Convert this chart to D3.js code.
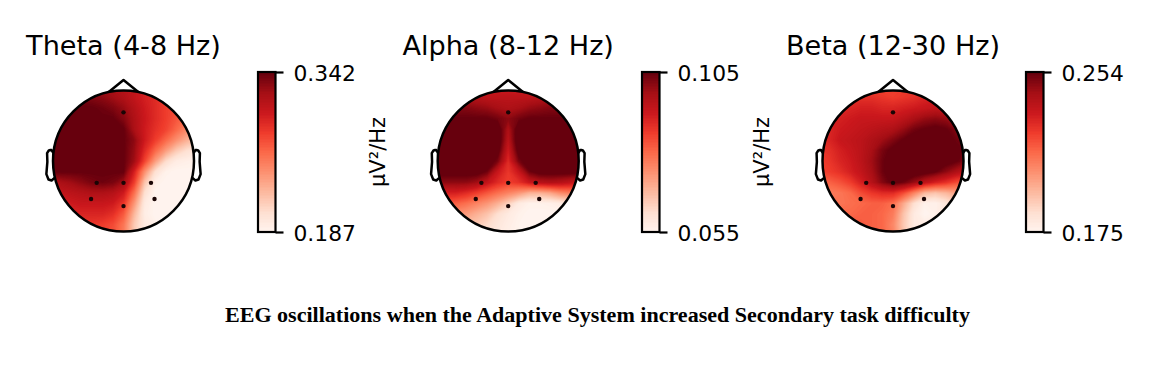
<!DOCTYPE html>
<html>
<head>
<meta charset="utf-8">
<title>EEG oscillations</title>
<script src="https://cdn.jsdelivr.net/npm/d3@7"></script>
<style>
  html, body { margin: 0; background: #fff; }
  svg { display: block; }
  text { font-family: "DejaVu Sans", sans-serif; fill: #000; }
  .caption { font-family: "Liberation Serif", serif; font-weight: 700; }
</style>
</head>
<body>
<svg id="chart" width="1173" height="373"></svg>
<script>
// Band names and the limits printed on each colorbar.
const titles = ['Theta (4-8 Hz)', 'Alpha (8-12 Hz)', 'Beta (12-30 Hz)'];
const rangeMin = [0.187, 0.055, 0.175];
const rangeMax = [0.342, 0.105, 0.254];
const unitLabels = ['µV²/Hz', 'µV²/Hz', ''];
const caption = 'EEG oscillations when the Adaptive System increased Secondary task difficulty';

// Electrode positions in head radii, x to the right, y towards the back of the head.
const electrodeX = [0, -0.38, 0, 0.39, -0.46, 0, 0.44];
const electrodeY = [-0.69, 0.31, 0.31, 0.31, 0.54, 0.64, 0.54];

// Sample positions of the grids below, also in head radii.
const gridAxis = [-1.05, -0.9, -0.75, -0.6, -0.45, -0.3, -0.15, 0, 0.15, 0.3, 0.45, 0.6, 0.75, 0.9, 1.05];

// Scalp maps, as percent of each colorbar's range.
// Anything above 100 is saturated in the colormap.
const thetaLevels = [
  [90, 90, 90, 90, 90, 88, 85, 82, 78, 72, 70, 68, 66, 62, 60],
  [100, 100, 100, 96, 94, 92, 88, 84, 78, 72, 68, 62, 60, 55, 50],
  [100, 100, 100, 100, 100, 98, 95, 90, 82, 74, 68, 62, 58, 52, 48],
  [100, 100, 100, 100, 100, 100, 100, 94, 84, 75, 68, 62, 55, 48, 42],
  [100, 100, 100, 100, 100, 100, 100, 100, 85, 74, 66, 60, 50, 40, 35],
  [100, 100, 100, 100, 100, 100, 100, 100, 92, 74, 62, 50, 38, 28, 22],
  [100, 100, 100, 100, 100, 100, 100, 100, 90, 68, 50, 34, 20, 12, 8],
  [100, 100, 100, 100, 100, 100, 100, 100, 88, 60, 34, 14, 5, 3, 2],
  [100, 100, 100, 100, 100, 100, 100, 100, 72, 38, 12, 2, 0, 0, 0],
  [82, 85, 88, 92, 96, 98, 96, 88, 62, 22, 3, 0, 0, 0, 0],
  [76, 78, 80, 82, 84, 84, 82, 74, 48, 12, 0, 0, 0, 0, 0],
  [70, 72, 74, 76, 76, 76, 74, 64, 36, 6, 0, 0, 0, 0, 0],
  [66, 68, 70, 70, 70, 70, 66, 54, 26, 4, 0, 0, 0, 0, 0],
  [62, 64, 64, 64, 64, 62, 58, 46, 20, 6, 2, 0, 0, 0, 0],
  [60, 62, 62, 62, 62, 60, 56, 44, 20, 6, 2, 0, 0, 0, 0]
];
const alphaLevels = [
  [74, 74, 74, 74, 74, 74, 74, 74, 74, 74, 74, 74, 74, 74, 74],
  [84, 84, 84, 84, 82, 80, 80, 80, 80, 80, 82, 84, 84, 84, 84],
  [96, 96, 94, 94, 92, 90, 86, 84, 86, 90, 92, 94, 94, 96, 96],
  [100, 100, 100, 100, 100, 100, 97, 92, 97, 100, 100, 100, 100, 100, 100],
  [106, 106, 106, 106, 106, 106, 106, 84, 106, 106, 106, 106, 106, 106, 106],
  [106, 106, 106, 106, 106, 106, 108, 80, 108, 106, 106, 106, 106, 106, 106],
  [106, 106, 106, 106, 106, 106, 104, 74, 104, 106, 106, 106, 106, 106, 106],
  [106, 106, 106, 106, 106, 106, 96, 68, 96, 106, 106, 106, 106, 106, 106],
  [104, 104, 104, 104, 104, 98, 76, 64, 76, 98, 104, 104, 104, 104, 104],
  [90, 92, 92, 92, 88, 78, 68, 62, 66, 76, 82, 84, 82, 78, 76],
  [72, 72, 72, 68, 62, 55, 48, 42, 36, 28, 28, 32, 40, 44, 46],
  [55, 55, 52, 48, 42, 36, 28, 18, 6, 2, 2, 3, 6, 10, 12],
  [42, 42, 38, 34, 28, 22, 12, 6, 2, 0, 0, 0, 0, 0, 0],
  [30, 30, 28, 24, 20, 14, 8, 4, 1, 0, 0, 0, 0, 0, 0],
  [22, 22, 22, 20, 16, 12, 6, 3, 1, 0, 0, 0, 0, 0, 0]
];
const betaLevels = [
  [60, 60, 60, 60, 60, 60, 60, 60, 62, 64, 66, 68, 68, 68, 68],
  [64, 64, 64, 66, 66, 66, 64, 62, 64, 66, 70, 72, 72, 72, 72],
  [68, 68, 68, 70, 72, 72, 70, 70, 72, 74, 76, 78, 78, 76, 74],
  [72, 72, 72, 74, 76, 76, 76, 76, 80, 85, 90, 92, 90, 86, 82],
  [70, 70, 74, 76, 78, 80, 82, 84, 90, 97, 100, 102, 100, 94, 88],
  [68, 70, 76, 78, 80, 84, 88, 94, 100, 104, 106, 106, 104, 98, 92],
  [64, 66, 72, 76, 80, 86, 96, 102, 106, 108, 108, 108, 106, 102, 98],
  [62, 64, 70, 74, 80, 88, 98, 106, 108, 108, 108, 106, 104, 100, 94],
  [60, 62, 66, 72, 78, 86, 98, 106, 108, 106, 104, 100, 92, 84, 78],
  [50, 52, 56, 62, 72, 82, 94, 102, 98, 90, 80, 72, 66, 58, 54],
  [44, 44, 46, 50, 58, 64, 68, 68, 58, 42, 26, 22, 26, 32, 34],
  [46, 46, 46, 48, 50, 52, 52, 48, 30, 12, 2, 2, 8, 16, 18],
  [50, 50, 50, 50, 52, 52, 50, 44, 22, 6, 0, 2, 10, 18, 20],
  [54, 54, 54, 54, 54, 52, 50, 40, 20, 6, 4, 8, 14, 20, 22],
  [54, 54, 54, 54, 54, 52, 50, 42, 22, 8, 6, 10, 16, 22, 24]
];
const levelGrids = [thetaLevels, alphaLevels, betaLevels];

// Where each panel sits on the page.
const headCenterX = [123.5, 508.2, 893];
const barLeft = [258, 642, 1026];
const unitX = [378, 762, 0];
const headCenterY = 161;
const headRadius = 70.5;
const barTop = 72;
const barBottom = 232;
const barWidth = 17.5;

// Matplotlib "Reds", which interpolates linearly between these stops.
const reds = ['#fff5f0', '#fee0d2', '#fcbba1', '#fc9272', '#fb6a4a', '#ef3b2c', '#cb181d', '#a50f15', '#67000d'];
const color = d3.scaleLinear().domain(d3.range(9).map(i => i * 12.5)).range(reds).clamp(true);

// Nose and ear outline in head radii (same proportions MNE uses for its topomaps).
const noseX = [-0.2094, 0, 0.2094];
const noseY = [-0.978, -1.15, -0.978];
const earX = [0.994, 1.02, 1.036, 1.0598, 1.0838, 1.08, 1.094, 1.064, 1.02, 0.978];
const earY = [-0.111, -0.155, -0.1566, -0.1492, -0.111, 0.011, 0.1864, 0.2626, 0.2768, 0.2398];

const svg = d3.select('#chart');
const levels = d3.range(0, 100);
const contours = d3.contours().size([gridAxis.length, gridAxis.length]).thresholds(levels).smooth(true);

titles.forEach((title, p) => {
  // Head coordinates to page pixels.
  const x = d3.scaleLinear().domain([-1, 1]).range([headCenterX[p] - headRadius, headCenterX[p] + headRadius]);
  const y = d3.scaleLinear().domain([-1, 1]).range([headCenterY - headRadius, headCenterY + headRadius]);
  // d3.contours puts grid sample i at i + 0.5, so map that onto gridAxis.
  const n = gridAxis.length;
  const gridToHead = d3.scaleLinear().domain([0.5, n - 0.5]).range([gridAxis[0], gridAxis[n - 1]]);
  const path = d3.geoPath(d3.geoTransform({
    point(px, py) { this.stream.point(x(gridToHead(px)), y(gridToHead(py))); }
  }));

  const panel = svg.append('g');

  panel.append('text')
    .attr('x', headCenterX[p]).attr('y', 55)
    .attr('text-anchor', 'middle').attr('font-size', 27.1)
    .text(title);

  // Nose and ears sit behind the scalp disc.
  const line = d3.line().x(d => x(d[0])).y(d => y(d[1]));
  const outline = panel.append('g').attr('fill', 'none').attr('stroke', '#000')
    .attr('stroke-width', 2.5).attr('stroke-linejoin', 'round');
  outline.append('path').attr('d', line(noseX.map((v, i) => [v, noseY[i]])));
  outline.append('path').attr('d', line(earX.map((v, i) => [v, earY[i]])));
  outline.append('path').attr('d', line(earX.map((v, i) => [-v, earY[i]])));

  // Filled contours, clipped to the head circle. They nest, so no seams show.
  const clipId = `head-clip-${p}`;
  panel.append('clipPath').attr('id', clipId).append('circle')
    .attr('cx', x(0)).attr('cy', y(0)).attr('r', headRadius);
  const field = panel.append('g').attr('clip-path', `url(#${clipId})`);
  field.append('rect')
    .attr('x', x(-1)).attr('y', y(-1))
    .attr('width', headRadius * 2).attr('height', headRadius * 2)
    .attr('fill', color(0));
  field.selectAll('path')
    .data(contours(levelGrids[p].flat()))
    .enter().append('path')
    .attr('d', path)
    .attr('fill', d => color(d.value + 1));

  panel.append('circle')
    .attr('cx', x(0)).attr('cy', y(0)).attr('r', headRadius)
    .attr('fill', 'none').attr('stroke', '#000').attr('stroke-width', 2.5);

  panel.selectAll('.electrode').data(electrodeX).enter().append('circle')
    .attr('class', 'electrode')
    .attr('cx', d => x(d))
    .attr('cy', (d, i) => y(electrodeY[i]))
    .attr('r', 2.2)
    .attr('fill', '#1a0505');

  // Colorbar: crisp slices so no hairlines show, then frame and the two end ticks.
  const barScale = d3.scaleLinear().domain([rangeMin[p], rangeMax[p]]).range([barBottom, barTop]);
  const levelToValue = d3.scaleLinear().domain([0, 100]).range([rangeMin[p], rangeMax[p]]);
  const bar = panel.append('g').attr('transform', `translate(${barLeft[p]},0)`);
  bar.selectAll('rect').data(levels).enter().append('rect')
    .attr('x', 0)
    .attr('y', d => barScale(levelToValue(d + 1)))
    .attr('width', barWidth)
    .attr('height', d => barScale(levelToValue(d)) - barScale(levelToValue(d + 1)) + 1)
    .attr('fill', d => color(d + 0.5))
    .attr('shape-rendering', 'crispEdges');
  bar.append('rect')
    .attr('x', 0).attr('y', barTop)
    .attr('width', barWidth).attr('height', barBottom - barTop)
    .attr('fill', 'none').attr('stroke', '#000').attr('stroke-width', 2.2);
  const axis = panel.append('g')
    .attr('transform', `translate(${barLeft[p] + barWidth},0)`)
    .call(d3.axisRight(barScale)
      .tickValues([rangeMin[p], rangeMax[p]])
      .tickFormat(d3.format('.3f'))
      .tickSize(8).tickPadding(10));
  axis.select('.domain').remove();
  axis.selectAll('line').attr('stroke', '#000').attr('stroke-width', 2.2);
  axis.selectAll('text').attr('font-size', 21.8).attr('dy', '0.37em')
    .attr('font-family', '"DejaVu Sans", sans-serif').attr('fill', '#000');

  if (unitLabels[p]) {
    panel.append('text')
      .attr('transform', `translate(${unitX[p]},152) rotate(-90)`)
      .attr('text-anchor', 'middle').attr('dominant-baseline', 'central')
      .attr('font-size', 21)
      .text(unitLabels[p]);
  }
});

svg.append('text')
  .attr('class', 'caption')
  .attr('x', 597.5).attr('y', 321.5)
  .attr('text-anchor', 'middle')
  .attr('font-size', 20)
  .attr('textLength', 745).attr('lengthAdjust', 'spacingAndGlyphs')
  .text(caption);
</script>
</body>
</html>
